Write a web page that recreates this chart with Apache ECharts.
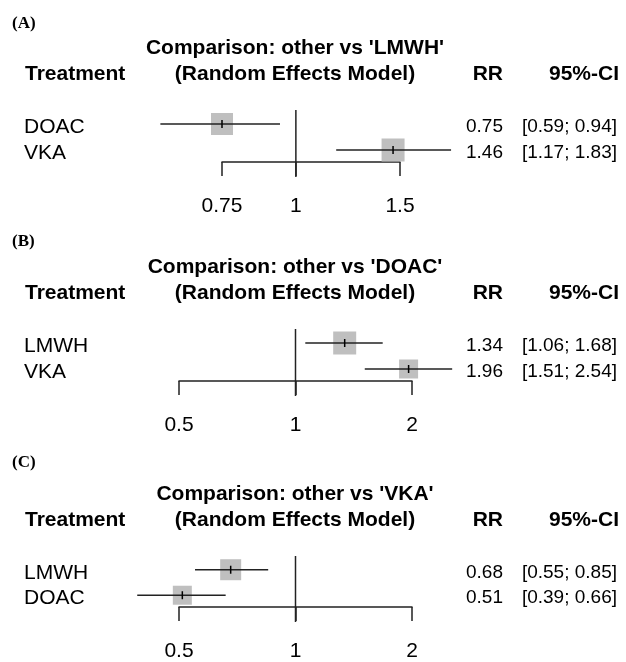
<!DOCTYPE html>
<html><head><meta charset="utf-8">
<script src="https://cdn.jsdelivr.net/npm/echarts@6/dist/echarts.min.js"></script>
<style>html,body{margin:0;padding:0;background:#fff}#c{width:626px;height:662px}</style>
</head><body><div id="c"></div>
<script>
// ---------------- DATA ----------------
const panelTags = ['(A)', '(B)', '(C)'];
const references = ['LMWH', 'DOAC', 'VKA'];
const subTitle = '(Random Effects Model)';
const headTreatment = 'Treatment';
const headRR = 'RR';
const headCI = '95%-CI';

const treatmentsA = ['DOAC', 'VKA'];
const rrA = [0.75, 1.46];
const lowerA = [0.59, 1.17];
const upperA = [0.94, 1.83];

const treatmentsB = ['LMWH', 'VKA'];
const rrB = [1.34, 1.96];
const lowerB = [1.06, 1.51];
const upperB = [1.68, 2.54];

const treatmentsC = ['LMWH', 'DOAC'];
const rrC = [0.68, 0.51];
const lowerC = [0.55, 0.39];
const upperC = [0.85, 0.66];

const ticksA = [0.75, 1, 1.5];
const ticksB = [0.5, 1, 2];
const ticksC = [0.5, 1, 2];
const tickLabelsA = ['0.75', '1', '1.5'];
const tickLabelsB = ['0.5', '1', '2'];
const tickLabelsC = ['0.5', '1', '2'];
const nullValue = 1;

// ---------------- LAYOUT / STYLE ----------------
const panels = [
  {treat: treatmentsA, rr: rrA, lo: lowerA, hi: upperA, ticks: ticksA, tickLabels: tickLabelsA,
   row1: 124, left: 222, width: 178, tagY: 24, sq: [22, 23]},
  {treat: treatmentsB, rr: rrB, lo: lowerB, hi: upperB, ticks: ticksB, tickLabels: tickLabelsB,
   row1: 343, left: 179, width: 233, tagY: 242, sq: [23, 19]},
  {treat: treatmentsC, rr: rrC, lo: lowerC, hi: upperC, ticks: ticksC, tickLabels: tickLabelsC,
   row1: 570, left: 179, width: 233, tagY: 463, sq: [21, 19]}
];
const ROWH = 26, TOPPAD = 14, BOTPAD = 12, TICKLEN = 14;
const SANS = '"Liberation Sans", Arial, Helvetica, sans-serif';
const SERIF = '"Liberation Serif", "Times New Roman", serif';
const LINE = '#222';
const SQ = '#bfbfbf';
const TXT = '#000';

const grids = [], xAxes = [], yAxes = [], series = [], graphics = [];

panels.forEach((p, i) => {
  const top = p.row1 - TOPPAD;
  const height = ROWH + TOPPAD + BOTPAD;
  grids.push({left: p.left, top: top, width: p.width, height: height});
  xAxes.push({
    type: 'log', logBase: 10, gridIndex: i,
    min: p.ticks[0], max: p.ticks[p.ticks.length - 1],
    axisLine: {show: true, onZero: false, lineStyle: {color: LINE, width: 1.5}},
    axisTick: {show: true, inside: false, length: TICKLEN, customValues: p.ticks,
               lineStyle: {color: LINE, width: 1.5}},
    axisLabel: {show: true, customValues: p.ticks, margin: 34, fontSize: 21,
                fontFamily: SANS, color: TXT,
                formatter: v => { const k = p.ticks.findIndex(t => Math.abs(t - v) < 1e-9); return k >= 0 ? p.tickLabels[k] : ''; }},
    splitLine: {show: false}, minorTick: {show: false}
  });
  yAxes.push({
    type: 'value', gridIndex: i, inverse: true, show: false,
    min: 1 - TOPPAD / ROWH, max: 2 + BOTPAD / ROWH
  });

  // reference line at RR = 1
  series.push({
    type: 'custom', xAxisIndex: i, yAxisIndex: i, clip: false, silent: true,
    data: [[nullValue, 1]],
    renderItem: (params, api) => {
      const cs = params.coordSys;
      const x = api.coord([api.value(0), 1])[0];
      return {type: 'line', shape: {x1: x, y1: cs.y, x2: x, y2: cs.y + cs.height + TICKLEN + 1},
              style: {stroke: LINE, lineWidth: 1.5}};
    }
  });

  // estimates
  const data = p.treat.map((t, k) => [k + 1, p.rr[k], p.lo[k], p.hi[k]]);
  series.push({
    type: 'custom', xAxisIndex: i, yAxisIndex: i, clip: false, silent: true,
    encode: {x: [1, 2, 3], y: 0},
    data: data,
    renderItem: (params, api) => {
      const k = params.dataIndex;
      const row = api.value(0);
      const c = api.coord([api.value(1), row]);
      const l = api.coord([api.value(2), row]);
      const h = api.coord([api.value(3), row]);
      const s = p.sq[k];
      return {type: 'group', children: [
        {type: 'rect', shape: {x: c[0] - s / 2, y: c[1] - s / 2, width: s, height: s},
         style: {fill: SQ}},
        {type: 'line', shape: {x1: l[0], y1: l[1], x2: h[0], y2: h[1]},
         style: {stroke: LINE, lineWidth: 1.5}},
        {type: 'line', shape: {x1: c[0], y1: c[1] - 4, x2: c[0], y2: c[1] + 4},
         style: {stroke: '#000', lineWidth: 1.5}},
        {type: 'text', style: {text: p.treat[k], x: 24, y: c[1] + 3, fill: TXT,
          fontSize: 21, fontFamily: SANS, align: 'left', verticalAlign: 'middle'}},
        {type: 'text', style: {text: api.value(1).toFixed(2), x: 503, y: c[1] + 3, fill: TXT,
          fontSize: 19, fontFamily: SANS, align: 'right', verticalAlign: 'middle'}},
        {type: 'text', style: {text: '[' + api.value(2).toFixed(2) + '; ' + api.value(3).toFixed(2) + ']',
          x: 617, y: c[1] + 3, fill: TXT,
          fontSize: 19, fontFamily: SANS, align: 'right', verticalAlign: 'middle'}}
      ]};
    }
  });

  // headers
  const bold = {fill: TXT, fontSize: 21, fontWeight: 'bold', fontFamily: SANS, verticalAlign: 'middle'};
  graphics.push({type: 'text', left: 12, top: p.tagY - 9,
    style: {text: panelTags[i], fill: TXT, fontSize: 17, fontWeight: 'bold', fontFamily: SERIF}});
  graphics.push({type: 'text', x: 295, y: p.row1 - 76,
    style: Object.assign({text: "Comparison: other vs '" + references[i] + "'", align: 'center'}, bold)});
  graphics.push({type: 'text', x: 295, y: p.row1 - 50,
    style: Object.assign({text: subTitle, align: 'center'}, bold)});
  graphics.push({type: 'text', x: 25, y: p.row1 - 50,
    style: Object.assign({text: headTreatment, align: 'left'}, bold)});
  graphics.push({type: 'text', x: 503, y: p.row1 - 50,
    style: Object.assign({text: headRR, align: 'right'}, bold)});
  graphics.push({type: 'text', x: 619, y: p.row1 - 50,
    style: Object.assign({text: headCI, align: 'right'}, bold)});
});

const chart = echarts.init(document.getElementById('c'), null, {renderer: 'canvas'});
chart.setOption({
  backgroundColor: '#fff',
  animation: false,
  grid: grids, xAxis: xAxes, yAxis: yAxes,
  series: series,
  graphic: graphics
});
</script>
</body></html>
